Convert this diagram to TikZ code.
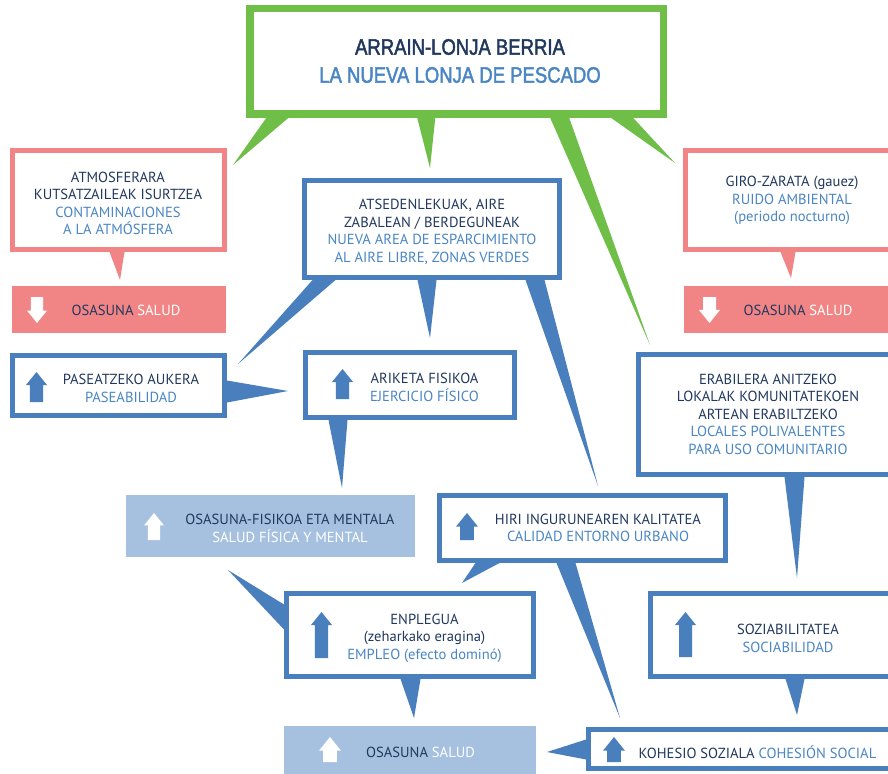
\documentclass[tikz,border=0pt]{standalone}
\usepackage{fontspec}
\setmainfont{PT Sans}
\newfontfamily\titlefont[FakeStretch=0.83,FakeBold=2]{Liberation Sans}
\usetikzlibrary{calc}
\definecolor{navy}{RGB}{33,56,94}
\definecolor{ltxt}{RGB}{74,134,196}
\definecolor{bblue}{RGB}{74,127,189}
\definecolor{pinkc}{RGB}{241,133,133}
\definecolor{gcol}{RGB}{110,190,72}
\definecolor{lblue}{RGB}{166,193,223}
\newcommand\blkup[5]{\fill[#1] (#2,#3) -- ({#2+#5/2},{#3+0.62*#5}) -- ({#2+0.31*#5},{#3+0.62*#5}) -- ({#2+0.31*#5},#4) -- ({#2-0.31*#5},#4) -- ({#2-0.31*#5},{#3+0.62*#5}) -- ({#2-#5/2},{#3+0.62*#5}) -- cycle;}
\newcommand\blkdown[5]{\fill[#1] (#2,#4) -- ({#2+#5/2},{#4-0.62*#5}) -- ({#2+0.31*#5},{#4-0.62*#5}) -- ({#2+0.31*#5},#3) -- ({#2-0.31*#5},#3) -- ({#2-0.31*#5},{#4-0.62*#5}) -- ({#2-#5/2},{#4-0.62*#5}) -- cycle;}
% tail: colour, anchor, first shift, second shift, tip
\newcommand\tailx[5]{\fill[#1] ([xshift=#3pt]#2) -- ([xshift=#4pt]#2) -- (#5) -- cycle;}
\newcommand\taily[5]{\fill[#1] ([yshift=#3pt]#2) -- ([yshift=#4pt]#2) -- (#5) -- cycle;}
\tikzset{
  gbox/.style={draw=gcol, line width=7.5pt, fill=white, inner sep=0pt},
  bbox/.style={draw=bblue, line width=5pt, fill=white, inner sep=0pt},
  pbox/.style={draw=pinkc, line width=5pt, fill=white, inner sep=0pt},
  fbox/.style={fill=#1, inner sep=0pt},
  txt/.style={align=center, font=\fontsize{14.6}{17.5}\selectfont, text=navy, inner sep=0pt},
}
\begin{document}
\begin{tikzpicture}[x=1pt,y=-1pt]
\useasboundingbox (0,0) rectangle (888,773);
\clip (0,0) rectangle (888,773);
\fill[white] (0,0) rectangle (888,773);

% tips
\coordinate (g1) at (233,165);
\coordinate (g2) at (430,168);
\coordinate (g3) at (650,345);
\coordinate (g4) at (675,163);
\coordinate (a1) at (238,364);
\coordinate (a2) at (430,338);
\coordinate (a3) at (598,486);
\coordinate (p1) at (288,391);
\coordinate (k1) at (342,488);
\coordinate (e1) at (797,578);
\coordinate (n1) at (228,570);
\coordinate (h1) at (462,583);
\coordinate (h2) at (620,718);
\coordinate (n2) at (414,718);
\coordinate (s1) at (797,715);
\coordinate (c1) at (547,752);
\coordinate (pl) at (120,280);
\coordinate (pr) at (791,278);

% boxes
\node[gbox, minimum width=413.5pt, minimum height=105.5pt] (top) at (456.5,61.5) {};
\node[pbox, minimum width=212pt, minimum height=99pt] (pinkL) at (118.5,200) {};
\node[pbox, minimum width=207pt, minimum height=99pt] (pinkR) at (789,200) {};
\node[fbox=pinkc, minimum width=214pt, minimum height=47pt] (barL) at (119,309.5) {};
\node[fbox=pinkc, minimum width=216pt, minimum height=47pt] (barR) at (792,309.5) {};
\node[bbox, minimum width=255pt, minimum height=97pt] (atsed) at (432,229) {};
\node[bbox, minimum width=212pt, minimum height=60pt] (pasea) at (118.5,385.5) {};
\node[bbox, minimum width=209pt, minimum height=65pt] (arike) at (410,385) {};
\node[bbox, minimum width=254pt, minimum height=120pt] (erabi) at (765.5,414.5) {};
\node[fbox=lblue, minimum width=289pt, minimum height=62pt] (osfis) at (270.5,526) {};
\node[bbox, minimum width=286pt, minimum height=65pt] (hiri) at (582.5,528) {};
\node[bbox, minimum width=247pt, minimum height=83pt] (enple) at (410,635) {};
\node[bbox, minimum width=242pt, minimum height=83pt] (sozia) at (771.5,635) {};
\node[fbox=lblue, minimum width=252pt, minimum height=54pt] (osbot) at (410,753) {};
\node[bbox, minimum width=304pt, minimum height=39pt] (kohe) at (740.5,749) {};

% tails
\tailx{gcol}{top.south west}{20.25}{42.25}{g1}
\tailx{gcol}{top.south west}{171.25}{189.25}{g2}
\tailx{gcol}{top.south west}{304.25}{323.25}{g3}
\tailx{gcol}{top.south west}{365.25}{387.25}{g4}
\tailx{pinkc}{pinkL.south west}{99.5}{114.5}{pl}
\tailx{pinkc}{pinkR.south west}{97.5}{112.5}{pr}
\tailx{bblue}{atsed.south west}{10.5}{33.5}{a1}
\tailx{bblue}{atsed.south west}{115.5}{134.5}{a2}
\tailx{bblue}{atsed.south west}{223.5}{242.5}{a3}
\taily{bblue}{pasea.north east}{-27.5}{-49.5}{p1}
\tailx{bblue}{arike.south west}{25.5}{44.5}{k1}
\tailx{bblue}{erabi.south west}{148.5}{168.5}{e1}
\taily{bblue}{enple.north west}{-13.5}{-38.5}{n1}
\tailx{bblue}{hiri.south west}{38.5}{62.5}{h1}
\tailx{bblue}{hiri.south west}{119.5}{138.5}{h2}
\tailx{bblue}{enple.south west}{116.5}{136.5}{n2}
\tailx{bblue}{sozia.south west}{137.5}{156.5}{s1}
\taily{bblue}{kohe.north west}{-12.5}{-32.5}{c1}

% arrows
\blkdown{white}{37}{297}{323}{20}
\blkdown{white}{709.5}{297}{323}{21}
\blkup{bblue}{36.5}{372}{402}{21}
\blkup{bblue}{342.5}{369}{399}{21}
\blkup{white}{154}{513}{540}{20}
\blkup{bblue}{467}{513}{540}{22}
\blkup{bblue}{321.5}{612}{658}{21}
\blkup{white}{330}{737}{762}{22}
\blkup{bblue}{685.5}{612}{657}{21}
\blkup{bblue}{614}{737}{762}{22}

% texts
\node[align=center, inner sep=0pt, font=\titlefont\fontsize{22.3}{28}\selectfont] (ttl) at (460,61) {\textcolor{navy}{ARRAIN-LONJA BERRIA}\\\textcolor{ltxt}{LA NUEVA LONJA DE PESCADO}};
\node[txt] (tpl) at (118,203.5) {ATMOSFERARA\\KUTSATZAILEAK ISURTZEA\\\textcolor{ltxt}{CONTAMINACIONES}\\\textcolor{ltxt}{A LA ATMÓSFERA}};
\node[txt] (tbl) at (126,310) {OSASUNA \textcolor{white}{SALUD}};
\node[txt] (tpr) at (792,200.5) {GIRO-ZARATA (gauez)\\\textcolor{ltxt}{RUIDO AMBIENTAL}\\\textcolor{ltxt}{(periodo nocturno)}};
\node[txt] (tbr) at (798,310) {OSASUNA \textcolor{white}{SALUD}};
\node[txt] (tat) at (432,232) {ATSEDENLEKUAK, AIRE\\ZABALEAN / BERDEGUNEAK\\\textcolor{ltxt}{NUEVA AREA DE ESPARCIMIENTO}\\\textcolor{ltxt}{AL AIRE LIBRE, ZONAS VERDES}};
\node[txt] (tpa) at (131,388.5) {PASEATZEKO AUKERA\\\textcolor{ltxt}{PASEABILIDAD}};
\node[txt] (tar) at (424.5,387.5) {ARIKETA FISIKOA\\\textcolor{ltxt}{EJERCICIO FÍSICO}};
\node[txt] (ter) at (768,414) {ERABILERA ANITZEKO\\LOKALAK KOMUNITATEKOEN\\ARTEAN ERABILTZEKO\\\textcolor{ltxt}{LOCALES POLIVALENTES}\\\textcolor{ltxt}{PARA USO COMUNITARIO}};
\node[txt] (tof) at (290,528.5) {OSASUNA-FISIKOA ETA MENTALA\\\textcolor{white}{SALUD FÍSICA Y MENTAL}};
\node[txt] (thi) at (598,528) {HIRI INGURUNEAREN KALITATEA\\\textcolor{ltxt}{CALIDAD ENTORNO URBANO}};
\node[txt] (ten) at (424.5,638) {ENPLEGUA\\(zeharkako eragina)\\\textcolor{ltxt}{EMPLEO (efecto dominó)}};
\node[txt] (tob) at (420.5,752) {OSASUNA \textcolor{white}{SALUD}};
\node[txt] (tso) at (788,638.5) {SOZIABILITATEA\\\textcolor{ltxt}{SOCIABILIDAD}};
\node[txt] (tko) at (757.5,752) {KOHESIO SOZIALA \textcolor{ltxt}{COHESIÓN SOCIAL}};
\end{tikzpicture}
\end{document}
